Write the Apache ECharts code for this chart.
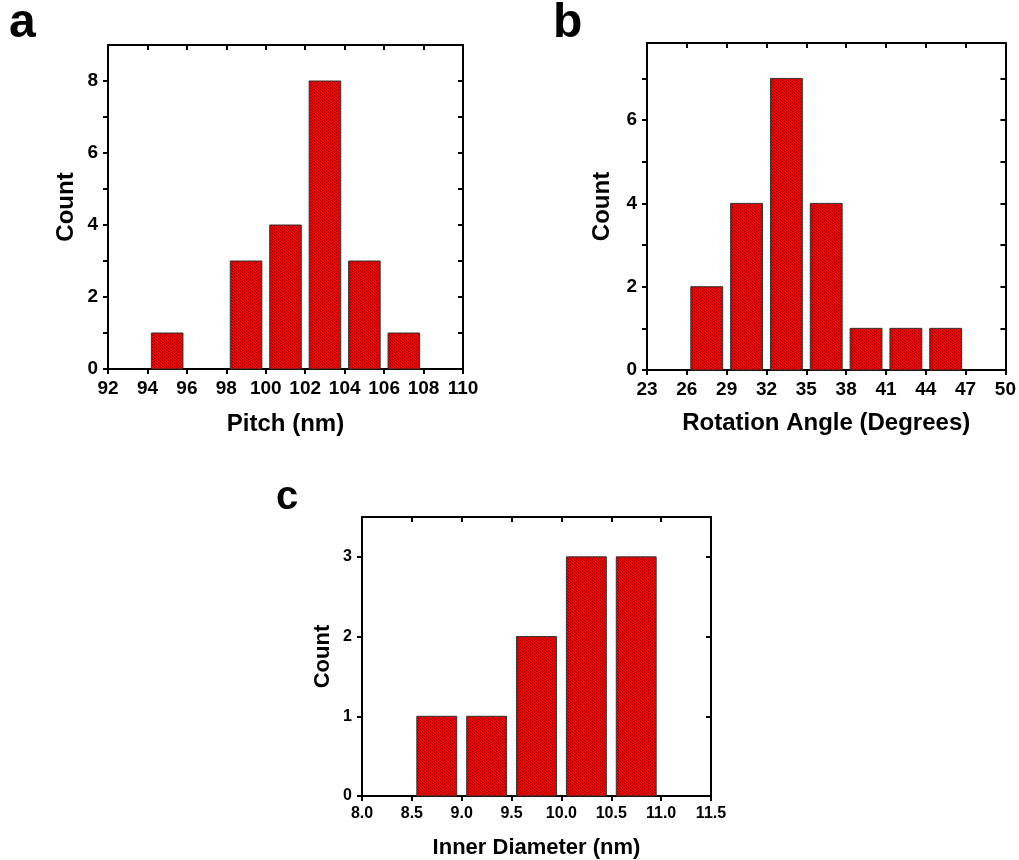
<!DOCTYPE html>
<html>
<head>
<meta charset="utf-8">
<script src="https://cdn.jsdelivr.net/npm/echarts@6/dist/echarts.min.js"></script>
<style>
html, body { margin: 0; padding: 0; background: #fff; }
#chart-box { width: 1019px; height: 860px; }
</style>
</head>
<body>
<div id="chart-box"></div>
<script>
// histogram data: bin start, counts, bin width
var pitchStart = [94, 96, 98, 100, 102, 104, 106];
var pitchCount = [1, 0, 3, 4, 8, 3, 1];
var pitchBin = 2;
var pitchTicks = [92, 94, 96, 98, 100, 102, 104, 106, 108, 110];

var angleStart = [26, 29, 32, 35, 38, 41, 44];
var angleCount = [2, 4, 7, 4, 1, 1, 1];
var angleBin = 3;
var angleTicks = [23, 26, 29, 32, 35, 38, 41, 44, 47, 50];

var diamStart = [8.5, 9.0, 9.5, 10.0, 10.5];
var diamCount = [1, 1, 2, 3, 3];
var diamBin = 0.5;
var diamTicks = [8.0, 8.5, 9.0, 9.5, 10.0, 10.5, 11.0, 11.5];

var myChart = echarts.init(document.getElementById('chart-box'));

// red fill with dark diagonal hatching
var hatch = document.createElement('canvas');
hatch.width = 3;
hatch.height = 3;
(function () {
    var ctx = hatch.getContext('2d');
    ctx.fillStyle = '#ff0000';
    ctx.fillRect(0, 0, 3, 3);
    ctx.fillStyle = 'rgba(50,0,0,0.6)';
    for (var i = 0; i < 3; i++) ctx.fillRect(i, i, 1, 1);
})();
var hatchFill = { image: hatch, repeat: 'repeat' };

function bins(start, count, w) {
    return start.map(function (s, i) { return [s, s + w, count[i]]; });
}

function histItem(params, api) {
    var x0 = api.value(0), x1 = api.value(1), n = api.value(2);
    if (!n) return;
    var pad = (x1 - x0) * 0.1;
    var p0 = api.coord([x0 + pad, n]);
    var p1 = api.coord([x1 - pad, 0]);
    return {
        type: 'rect',
        shape: { x: p0[0], y: p0[1], width: p1[0] - p0[0], height: p1[1] - p0[1] },
        style: { fill: hatchFill, stroke: '#333', lineWidth: 1 }
    };
}

var font = 'Liberation Sans';
var lineStyle = { color: '#000', width: 2 };

function bottomAxis(grid, min, max, interval, ticks, name, fs, nfs, gap, digits) {
    return {
        type: 'value', gridIndex: grid, position: 'bottom', min: min, max: max, interval: interval,
        name: name, nameLocation: 'middle', nameGap: gap,
        nameTextStyle: { fontFamily: font, fontWeight: 'bold', fontSize: nfs, color: '#000' },
        axisLine: { show: true, onZero: false, lineStyle: lineStyle },
        axisTick: { show: true, inside: false, length: 5, customValues: ticks, lineStyle: lineStyle },
        axisLabel: {
            show: true, margin: 10, customValues: ticks,
            fontFamily: font, fontWeight: 'bold', fontSize: fs, color: '#000',
            formatter: function (v) { return v.toFixed(digits); }
        },
        splitLine: { show: false }
    };
}

function topAxis(grid, min, max, interval, ticks) {
    return {
        type: 'value', gridIndex: grid, position: 'top', min: min, max: max, interval: interval,
        axisLine: { show: true, onZero: false, lineStyle: lineStyle },
        axisTick: { show: true, inside: true, length: 5, customValues: ticks, lineStyle: lineStyle },
        axisLabel: { show: false },
        splitLine: { show: false }
    };
}

function leftAxis(grid, max, interval, labelStep, fs, nfs, gap) {
    return {
        type: 'value', gridIndex: grid, position: 'left', min: 0, max: max, interval: interval,
        name: 'Count', nameLocation: 'middle', nameGap: gap,
        nameTextStyle: { fontFamily: font, fontWeight: 'bold', fontSize: nfs, color: '#000' },
        axisLine: { show: true, onZero: false, lineStyle: lineStyle },
        axisTick: { show: true, inside: false, length: 5, lineStyle: lineStyle },
        axisLabel: {
            show: true, margin: 10, showMaxLabel: false,
            fontFamily: font, fontWeight: 'bold', fontSize: fs, color: '#000',
            formatter: function (v) { return (v % labelStep === 0) ? String(v) : ''; }
        },
        splitLine: { show: false }
    };
}

function rightAxis(grid, max, interval) {
    return {
        type: 'value', gridIndex: grid, position: 'right', min: 0, max: max, interval: interval,
        axisLine: { show: true, onZero: false, lineStyle: lineStyle },
        axisTick: { show: true, inside: true, length: 5, lineStyle: lineStyle },
        axisLabel: { show: false },
        splitLine: { show: false }
    };
}

var option = {
    animation: false,
    backgroundColor: '#fff',
    grid: [
        { left: 108, top: 45, width: 355, height: 324 },
        { left: 647, top: 43, width: 359, height: 327 },
        { left: 362, top: 517, width: 349, height: 282 }
    ],
    xAxis: [
        bottomAxis(0, 92, 110, 2, pitchTicks, 'Pitch (nm)', 19, 24, 43, 0),
        topAxis(0, 92, 110, 2, pitchTicks.slice(1, -1)),
        bottomAxis(1, 23, 50, 3, angleTicks, 'Rotation Angle (Degrees)', 19, 24, 41, 0),
        topAxis(1, 23, 50, 3, angleTicks.slice(1, -1)),
        bottomAxis(2, 8, 11.5, 0.5, diamTicks, 'Inner Diameter (nm)', 16, 22, 41, 1),
        topAxis(2, 8, 11.5, 0.5, diamTicks.slice(1, -1))
    ],
    yAxis: [
        leftAxis(0, 9, 1, 2, 19, 24, 30),
        rightAxis(0, 9, 1),
        leftAxis(1, 7.85, 1, 2, 19, 24, 33),
        rightAxis(1, 7.85, 1),
        leftAxis(2, 3.5, 1, 1, 16, 22, 28),
        rightAxis(2, 3.5, 1)
    ],
    series: [
        { type: 'custom', xAxisIndex: 0, yAxisIndex: 0, renderItem: histItem,
          encode: { x: [0, 1], y: 2 }, data: bins(pitchStart, pitchCount, pitchBin) },
        { type: 'custom', xAxisIndex: 2, yAxisIndex: 2, renderItem: histItem,
          encode: { x: [0, 1], y: 2 }, data: bins(angleStart, angleCount, angleBin) },
        { type: 'custom', xAxisIndex: 4, yAxisIndex: 4, renderItem: histItem,
          encode: { x: [0, 1], y: 2 }, data: bins(diamStart, diamCount, diamBin) }
    ],
    graphic: [
        { type: 'text', left: 9, top: 0, style: { text: 'a', fontFamily: font, fontWeight: 'bold', fontSize: 48, fill: '#000' } },
        { type: 'text', left: 553, top: 0, style: { text: 'b', fontFamily: font, fontWeight: 'bold', fontSize: 48, fill: '#000' } },
        { type: 'text', left: 276, top: 478, style: { text: 'c', fontFamily: font, fontWeight: 'bold', fontSize: 40, fill: '#000' } }
    ]
};

myChart.setOption(option);
</script>
</body>
</html>
